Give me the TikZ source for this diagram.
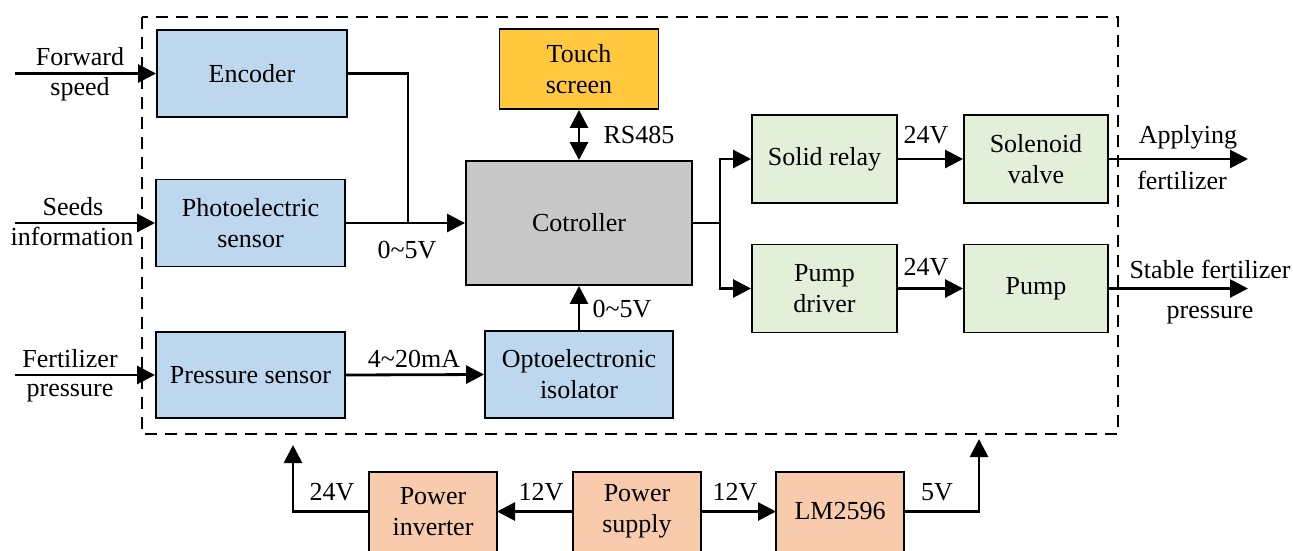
\documentclass[tikz,border=0pt]{standalone}
\usepackage{fontspec}
\setmainfont{Liberation Serif}
\usetikzlibrary{arrows.meta}
\definecolor{cblue}{HTML}{BDD7EE}
\definecolor{cgreen}{HTML}{E2EFD9}
\definecolor{corange}{HTML}{F8CBAD}
\definecolor{cyellow}{HTML}{FFC83D}
\definecolor{cgray}{HTML}{C8C8C8}
\tikzset{
  box/.style={draw=black, line width=1.9pt, inner sep=0pt, align=center},
  bluebox/.style={box, fill=cblue},
  greenbox/.style={box, fill=cgreen},
  orangebox/.style={box, fill=corange},
  lbl/.style={anchor=base, inner sep=0pt},
  conn/.style={line width=2.8pt},
  arr/.style={conn, -{Triangle[length=18pt,width=18pt]}},
  darr/.style={conn, {Triangle[length=18pt,width=18pt]}-{Triangle[length=18pt,width=18pt]}},
  frame/.style={line width=2pt, dash pattern=on 12pt off 8pt}
}
\newcommand{\tl}{\textasciitilde}
\begin{document}
\begin{tikzpicture}[x=1pt, y=-1pt, font=\rmfamily\fontsize{26}{31}\selectfont]
\useasboundingbox (0,0) rectangle (1293,550);
\clip (0,0) rectangle (1293,550);
% frame
\draw[frame] (142,17) rectangle (1118,434);
% boxes
\node[bluebox, minimum width=190pt, minimum height=87pt] (enc) at (252,73.5) {Encoder};
\node[bluebox, minimum width=189pt, minimum height=87pt] (photo) at (250.5,223) {Photoelectric\\sensor};
\node[bluebox, minimum width=189pt, minimum height=86pt] (press) at (250.5,375) {Pressure sensor};
\node[bluebox, minimum width=188pt, minimum height=87pt] (opto) at (579,374.5) {Optoelectronic\\isolator};
\node[box, fill=cgray, minimum width=226pt, minimum height=124pt] (ctrl) at (579,223) {Cotroller};
\node[box, fill=cyellow, minimum width=159pt, minimum height=80pt] (touch) at (579,69) {Touch\\screen};
\node[greenbox, minimum width=145pt, minimum height=88pt] (relay) at (824.5,159) {Solid relay};
\node[greenbox, minimum width=144pt, minimum height=88pt] (valve) at (1036,159) {Solenoid\\valve};
\node[greenbox, minimum width=145pt, minimum height=88pt] (driver) at (824.5,288.5) {Pump\\driver};
\node[greenbox, minimum width=144pt, minimum height=88pt] (pump) at (1036,288.5) {Pump};
\node[orangebox, minimum width=128pt, minimum height=90pt] (inv) at (433,517) {};
\node[orangebox, minimum width=128pt, minimum height=90pt] (supply) at (637,517) {};
\node[orangebox, minimum width=128pt, minimum height=90pt] (lm) at (840,517) {};
\node[align=center, inner sep=0pt] (invt) at (433,511.5) {Power\\inverter};
\node[align=center, inner sep=0pt] (supt) at (637,511.5) {Power\\supply};
\node[inner sep=0pt] (lmt) at (840,511.5) {LM2596};
% coordinates
\coordinate (fsin) at (15,73.5);
\coordinate (siin) at (15,223);
\coordinate (fpin) at (15,375);
\coordinate (join) at (408,223);
\coordinate (br) at (720,223);
\coordinate (afout) at (1248,159);
\coordinate (sfout) at (1248,288.5);
\coordinate (p24) at (293,445);
\coordinate (p5) at (979,439);
\coordinate (invw) at (369,511.5);
\coordinate (inve) at (497,511.5);
\coordinate (supw) at (573,511.5);
\coordinate (supe) at (701,511.5);
\coordinate (lmw) at (776,511.5);
\coordinate (lme) at (904,511.5);
% connectors
\draw[arr] (fsin) -- (enc.west);
\draw[arr] (siin) -- (photo.west);
\draw[arr] (fpin) -- (press.west);
\draw[conn] (enc.east) -| (join);
\draw[arr] (photo.east) -- (ctrl.west);
\draw[arr] (press.east) -- (opto.west);
\draw[arr] (opto.north) -- (ctrl.south);
\draw[darr] (touch.south) -- (ctrl.north);
\draw[conn] (ctrl.east) -- (br);
\draw[arr] (br) |- (relay.west);
\draw[arr] (br) |- (driver.west);
\draw[arr] (relay.east) -- (valve.west);
\draw[arr] (driver.east) -- (pump.west);
\draw[arr] (valve.east) -- (afout);
\draw[arr] (pump.east) -- (sfout);
\draw[arr] (supw) -- (inve);
\draw[arr] (supe) -- (lmw);
\draw[arr] (invw) -| (p24);
\draw[arr] (lme) -| (p5);
% labels
\node[lbl] (l1) at (80,65) {Forward};
\node[lbl] (l2) at (80,95) {speed};
\node[lbl] (l3) at (73,215) {Seeds};
\node[lbl] (l4) at (72,245) {information};
\node[lbl] (l5) at (70,367) {Fertilizer};
\node[lbl] (l6) at (70,396) {pressure};
\node[lbl] (l7) at (407,258) {0\tl5V};
\node[lbl] (l8) at (414,367) {4\tl20mA};
\node[lbl] (l9) at (622,317) {0\tl5V};
\node[lbl] (l10) at (639,143) {RS485};
\node[lbl] (l11) at (926,143) {24V};
\node[lbl] (l12) at (926,275) {24V};
\node[lbl] (l13) at (1188,143) {Applying};
\node[lbl] (l14) at (1182,189) {fertilizer};
\node[lbl] (l15) at (1210,278) {Stable fertilizer};
\node[lbl] (l16) at (1210,318) {pressure};
\node[lbl] (l17) at (332,500) {24V};
\node[lbl] (l18) at (541,500) {12V};
\node[lbl] (l19) at (735,500) {12V};
\node[lbl] (l20) at (937,500) {5V};
\end{tikzpicture}
\end{document}
